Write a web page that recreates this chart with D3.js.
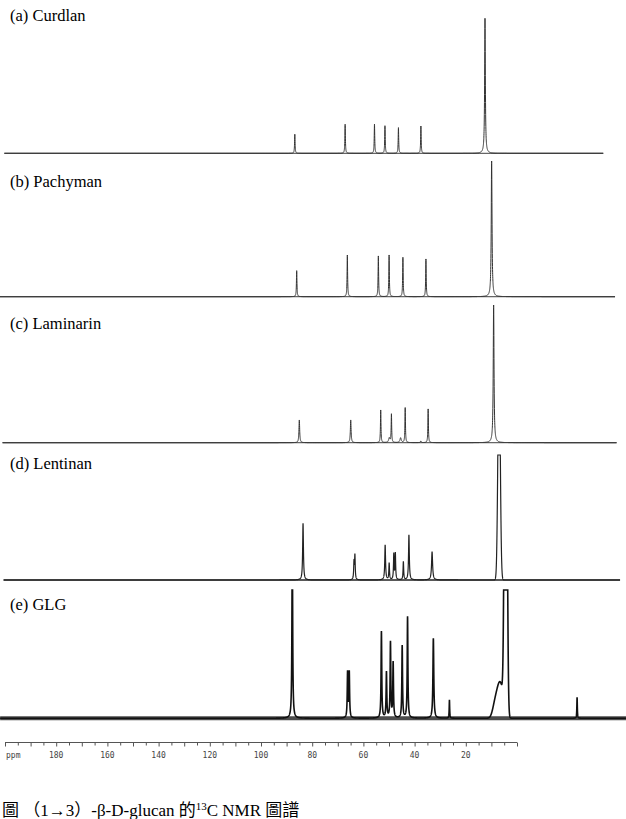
<!DOCTYPE html>
<html><head><meta charset="utf-8">
<script src="https://cdn.jsdelivr.net/npm/d3@7"></script>
<style>body{margin:0;background:#fff} svg{display:block}</style>
</head><body>
<svg id="chart" width="626" height="819"></svg>
<script>
// ---------- data ----------
const panelLabels = ["(a) Curdlan", "(b) Pachyman", "(c) Laminarin", "(d) Lentinan", "(e) GLG"];

const curdlanPpm    = [103.0, 86.2, 76.4, 72.9, 68.4, 60.9, 39.5];
const curdlanHeight = [14.1, 21.5, 21.5, 20.4, 19.0, 20.2, 100];
const curdlanWidth  = [0.1, 0.1, 0.1, 0.1, 0.1, 0.1, 0.14];

const pachymanPpm    = [103.0, 86.5, 76.4, 72.9, 68.4, 60.9, 39.5];
const pachymanHeight = [19.2, 30.7, 30.0, 30.7, 29.0, 27.8, 100];
const pachymanWidth  = [0.1, 0.1, 0.1, 0.1, 0.1, 0.1, 0.15];

const laminarinPpm    = [103.0, 86.2, 76.4, 73.6, 72.9, 69.9, 68.4, 63.3, 60.9, 39.5];
const laminarinHeight = [16.5, 16.5, 23.7, 3.4, 20.6, 3.5, 25.4, 1.2, 24.5, 100];
const laminarinWidth  = [0.14, 0.14, 0.1, 0.25, 0.1, 0.25, 0.1, 0.15, 0.1, 0.15];

const lentinanPpm    = [103.0, 86.5, 86.2, 76.4, 75.1, 73.6, 73.1, 70.5, 68.7, 61.2, 39.5];
const lentinanHeight = [45.4, 13.4, 19.2, 28.0, 13.4, 20.6, 21.0, 14.6, 36.0, 22.6, 180];
const lentinanWidth  = [0.15, 0.12, 0.12, 0.15, 0.12, 0.12, 0.12, 0.12, 0.15, 0.2, 0.38];
const lentinanShape  = ["L","L","L","L","L","L","L","L","L","L","G"];

const glgPpm    = [103.0, 86.5, 86.0, 76.4, 74.9, 73.7, 72.9, 70.2, 68.6, 60.9, 56.1, 42.6, 41.0, 39.3, 18.0];
const glgHeight = [150, 35.5, 35.5, 67.5, 35.5, 58.9, 42.9, 56.4, 79.0, 62.4, 14.3, 7, 28, 400, 16.4];
const glgWidth  = [0.12, 0.12, 0.12, 0.12, 0.12, 0.12, 0.12, 0.12, 0.12, 0.15, 0.08, 0.7, 1.0, 0.36, 0.08];
const glgShape  = ["L","L","L","L","L","L","L","L","L","L","L","G","G","G","L"];

const axisTickValues  = d3.range(0, 201, 5);
const axisLabelValues = [180, 160, 140, 120, 100, 80, 60, 40, 20];
const axisUnit = "ppm";
const captionText = "圖 （1→3）-β-D-glucan 的";
const captionSup = "13";
const captionText2 = "C NMR 圖譜";

// ---------- layout (pixels) ----------
const layout = [
  {r0: 4.3,   r1: 603.3, from: 200,   to: 0,    base: 153.3, top: 18.3,  labelY: 21,  stroke: 1.0, band: 1.3, col: "#333"},
  {r0: -1.1,  r1: 612.9, from: 200,   to: -0.7, base: 296.7, top: 161,   labelY: 187, stroke: 1.0, band: 1.3, col: "#333"},
  {r0: 2.5,   r1: 614.5, from: 200,   to: -0.7, base: 442.7, top: 305,   labelY: 329, stroke: 1.0, band: 1.3, col: "#333"},
  {r0: 3.6,   r1: 621,   from: 200,   to: 0.3,  base: 580,   top: 455,   labelY: 469, stroke: 1.2, band: 1.8, col: "#222"},
  {r0: -32.7, r1: 637.4, from: 190.2, to: 3.4,  base: 718.3, top: 590,   labelY: 610, stroke: 1.6, band: 4.0, col: "#111"}
];

const series = [
  {ppm: curdlanPpm, h: curdlanHeight, w: curdlanWidth},
  {ppm: pachymanPpm, h: pachymanHeight, w: pachymanWidth},
  {ppm: laminarinPpm, h: laminarinHeight, w: laminarinWidth},
  {ppm: lentinanPpm, h: lentinanHeight, w: lentinanWidth, s: lentinanShape},
  {ppm: glgPpm, h: glgHeight, w: glgWidth, s: glgShape}
];

const svg = d3.select("#chart");

function intensity(sr, p) {
  let v = 0;
  for (let i = 0; i < sr.ppm.length; i++) {
    const d = p - sr.ppm[i], w = sr.w[i], h = sr.h[i];
    const shape = sr.s ? sr.s[i] : "L";
    if (shape === "G") v += h * Math.exp(-d * d / (2 * w * w));
    else v += h * w * w / (d * d + w * w);
  }
  return Math.min(v, 100);
}

series.forEach((sr, k) => {
  const L = layout[k];
  const x = d3.scaleLinear().domain([200, 0]).range([L.r0, L.r1]);
  const y = d3.scaleLinear().domain([0, 100]).range([L.base, L.top]);
  const grid = d3.range(L.from, L.to, -0.02);
  const pts = grid.map(p => [p, intensity(sr, p)]);
  const g = svg.append("g");
  g.append("line")
    .attr("x1", x(L.from)).attr("x2", x(L.to))
    .attr("y1", y(0)).attr("y2", y(0))
    .attr("stroke", L.col).attr("stroke-width", L.band).attr("opacity", 0.75);
  g.append("path")
    .datum(pts)
    .attr("fill", "none")
    .attr("stroke", L.col)
    .attr("stroke-width", L.stroke)
    .attr("d", d3.line().x(d => x(d[0])).y(d => y(d[1])));
  g.append("text")
    .attr("x", 10).attr("y", L.labelY)
    .attr("font-family", "'Liberation Serif', 'Times New Roman', serif")
    .attr("font-size", 16.5)
    .attr("fill", "#000")
    .text(panelLabels[k]);
});

// ---------- bottom ppm axis ----------
const xa = d3.scaleLinear().domain([200, 0]).range([5, 517]);
const axisG = svg.append("g").attr("transform", "translate(0,742.5)");
axisG.call(d3.axisBottom(xa).tickValues(axisTickValues).tickSize(4).tickFormat(""));
axisG.select(".domain").attr("stroke", "#555").attr("d", `M${xa(200)},0H${xa(0)}`);
axisG.selectAll(".tick line").attr("stroke", "#555").attr("y2", d => d % 10 === 0 ? 4 : 3);
axisG.selectAll(".tick text").remove();
axisG.selectAll(".lbl").data(axisLabelValues).enter().append("text")
  .attr("class", "lbl")
  .attr("x", d => xa(d)).attr("y", 15.5)
  .attr("text-anchor", "middle")
  .attr("font-family", "'DejaVu Sans Mono', monospace")
  .attr("font-size", 8).attr("fill", "#444")
  .text(d => d);
axisG.append("text").attr("x", 6).attr("y", 15.5)
  .attr("text-anchor", "start")
  .attr("font-family", "'DejaVu Sans Mono', monospace")
  .attr("font-size", 8).attr("fill", "#444").text(axisUnit);

// ---------- caption ----------
const cap = svg.append("text").attr("x", 2).attr("y", 816)
  .attr("font-family", "'Liberation Serif', 'Noto Sans CJK TC', serif")
  .attr("font-size", 17).attr("fill", "#000");
cap.append("tspan").text(captionText);
cap.append("tspan").attr("font-size", 11).attr("dy", -6).text(captionSup);
cap.append("tspan").attr("dy", 6).text(captionText2);
</script>
</body></html>
